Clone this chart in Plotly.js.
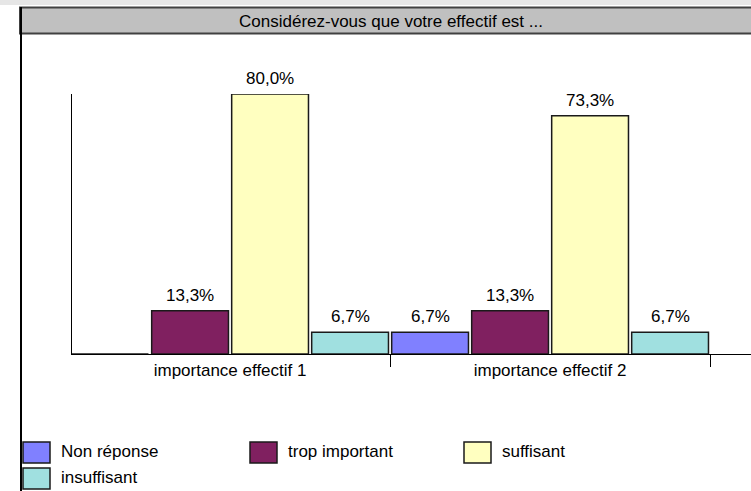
<!DOCTYPE html>
<html><head><meta charset="utf-8">
<script src="https://cdn.plot.ly/plotly-3.0.1.min.js"></script>
<style>html,body{margin:0;padding:0;background:#fff}#chart{width:751px;height:491px}</style>
</head><body><div id="chart"></div>
<script>
const categories = ['importance effectif 1', 'importance effectif 2'];
const seriesNames = ['Non réponse', 'trop important', 'suffisant', 'insuffisant'];
const nonReponse = [0, 6.7];
const tropImportant = [13.3, 13.3];
const suffisant = [80.0, 73.3];
const insuffisant = [6.7, 6.7];
const seriesColors = ['#8080FF', '#802060', '#FFFFC0', '#A0E0E0'];
const titleText = 'Considérez-vous que votre effectif est ...';

const seriesValues = [nonReponse, tropImportant, suffisant, insuffisant];
const FONT = 'Liberation Sans, Arial, sans-serif';
const FS = 17;
const W = 751, H = 491;
const M = {l: 72, r: 0, t: 94, b: 137};
const PW = W - M.l - M.r, PH = H - M.t - M.b;
const px = x => (x - M.l) / PW;
const py = y => (H - M.b - y) / PH;
const fmt = v => v.toFixed(1).replace('.', ',') + '%';

const traces = seriesValues.map((vals, j) => ({
  type: 'bar', name: seriesNames[j], x: categories, y: vals,
  marker: {color: seriesColors[j], line: {color: '#1a1a1a', width: 1.5}},
  hoverinfo: 'none'
}));

const nS = seriesValues.length;
const annotations = [];
seriesValues.forEach((vals, j) => {
  vals.forEach((v, i) => {
    if (v <= 0) return;
    annotations.push({
      x: i + (j - (nS - 1) / 2) / nS, y: v, xref: 'x', yref: 'y',
      text: fmt(v), showarrow: false, yanchor: 'bottom', yshift: 4,
      font: {family: FONT, size: FS, color: '#000'}
    });
  });
});

// manual legend (square swatches like the original)
const legendPos = [[23, 442], [250, 442], [464, 442], [23, 468]];
const shapes = [];
// decorative frame
shapes.push({type: 'rect', xref: 'paper', yref: 'paper', x0: px(0), x1: px(W), y0: py(0), y1: py(5), fillcolor: '#E6E6E6', line: {width: 0}, layer: 'below'});
shapes.push({type: 'rect', xref: 'paper', yref: 'paper', x0: px(20), x1: px(W + 5), y0: py(7.5), y1: py(33.5), fillcolor: '#C0C0C0', line: {color: '#404040', width: 2}, layer: 'below'});
shapes.push({type: 'line', xref: 'paper', yref: 'paper', x0: px(21), x1: px(21), y0: py(7), y1: py(H + 2), line: {color: '#000', width: 2}});

seriesNames.forEach((name, j) => {
  const [lx, ly] = legendPos[j];
  shapes.push({type: 'rect', xref: 'paper', yref: 'paper', x0: px(lx), x1: px(lx + 27), y0: py(ly), y1: py(ly + 21),
    fillcolor: seriesColors[j], line: {color: '#1a1a1a', width: 1.5}});
  annotations.push({xref: 'paper', yref: 'paper', x: px(lx + 36), y: py(ly + 9), xanchor: 'left', yanchor: 'middle',
    text: name, showarrow: false, font: {family: FONT, size: FS, color: '#000'}});
});

const layout = {
  width: W, height: H, margin: M,
  paper_bgcolor: '#fff', plot_bgcolor: 'rgba(0,0,0,0)',
  font: {family: FONT, size: FS, color: '#000'},
  title: {text: titleText, xref: 'container', yref: 'container', x: 391 / W, xanchor: 'center', y: 1 - 21 / H, yanchor: 'middle',
    font: {family: FONT, size: FS, color: '#000'}},
  showlegend: false,
  barmode: 'group', bargap: 0, bargroupgap: 0.04,
  xaxis: {type: 'category', range: [-0.494, -0.494 + PW / 320], showline: true, linecolor: '#000', linewidth: 1,
    ticks: 'outside', tickson: 'boundaries', ticklen: 12, tickcolor: '#000', tickwidth: 1,
    ticklabelstandoff: 1, showgrid: false, zeroline: false, fixedrange: true,
    tickfont: {family: FONT, size: FS, color: '#000'}},
  yaxis: {range: [0, 80], showline: true, linecolor: '#000', linewidth: 1, showticklabels: false, ticks: '',
    showgrid: false, zeroline: false, fixedrange: true},
  shapes: shapes, annotations: annotations
};

Plotly.newPlot('chart', traces, layout, {staticPlot: true, displayModeBar: false});
</script></body></html>
